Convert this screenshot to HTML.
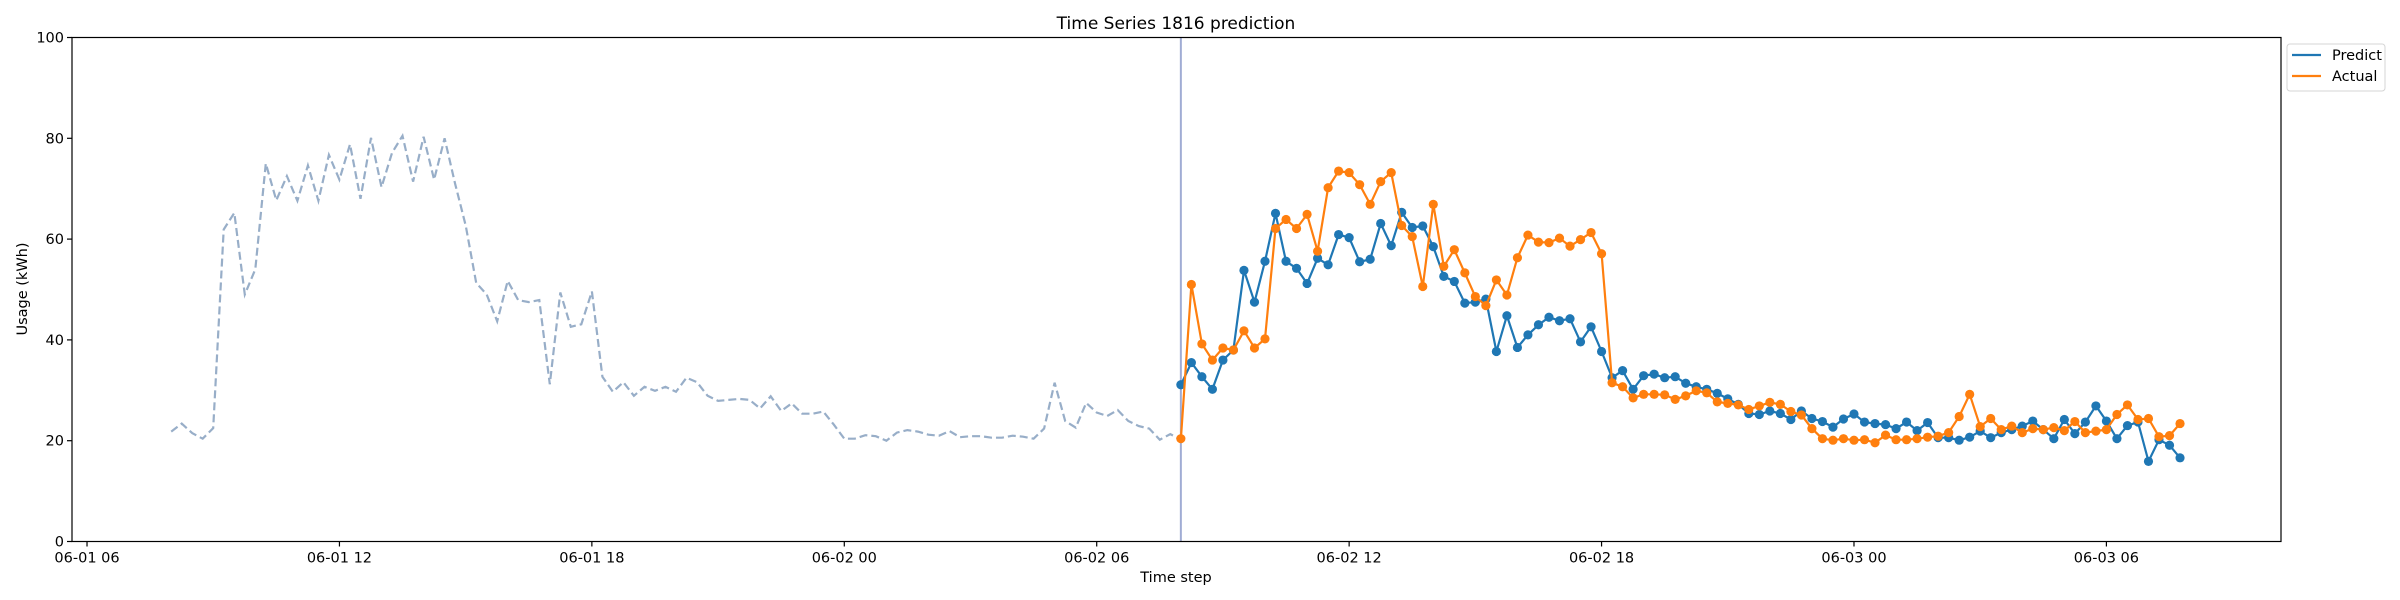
<!DOCTYPE html>
<html><head><meta charset="utf-8"><style>
html,body{margin:0;padding:0;background:#fff;}
svg{display:block;font-family:"DejaVu Sans","Liberation Sans",sans-serif;}
</style></head><body>
<svg id="chart" width="2400" height="600" viewBox="0 0 2400 600" xmlns="http://www.w3.org/2000/svg">
<rect x="0" y="0" width="2400" height="600" fill="#fff"/>
<text x="1176" y="29" font-size="17" text-anchor="middle" fill="#000">Time Series 1816 prediction</text>
<text x="1176" y="582" font-size="14.5" text-anchor="middle" fill="#000">Time step</text>
<text x="0" y="0" font-size="14.5" text-anchor="middle" fill="#000" transform="translate(27,289) rotate(-90)">Usage (kWh)</text>
<g id="plot"></g>
<g id="legend">
<rect x="2287" y="44" width="98" height="47" rx="3" fill="#fff" stroke="#d5d5d5" stroke-width="1"/>
<line x1="2292" y1="55" x2="2321" y2="55" stroke="#1f77b4" stroke-width="2.2"/>
<text x="2332" y="60" font-size="14.5">Predict</text>
<line x1="2292" y1="76" x2="2321" y2="76" stroke="#ff7f0e" stroke-width="2.2"/>
<text x="2332" y="81" font-size="14.5">Actual</text>
</g>
</svg>
<script>
const historyValues=[21.8,23.4,21.5,20.4,22.5,61.9,65.2,49,54,75,67.7,72.5,67.6,74.6,67.6,76.7,71.8,78.8,68,80.1,70.3,77.1,80.5,71.4,80.3,71.8,80,71,62.7,51.3,49,43.7,51.7,47.9,47.5,47.9,31.2,49.4,42.6,43.1,49.6,32.7,29.7,31.6,28.9,30.7,29.9,30.7,29.7,32.5,31.6,28.9,27.9,28.1,28.3,28.1,26.4,28.8,25.9,27.4,25.35,25.35,25.8,23.2,20.4,20.4,21.1,20.9,20.0,21.6,22.1,21.8,21.2,21.0,21.9,20.7,20.9,20.9,20.6,20.6,21.0,20.8,20.4,22.4,31.5,23.9,22.6,27.5,25.6,24.9,26.1,23.9,22.9,22.4,20.2,21.3,20.2];
const predictValues=[31.1,35.5,32.7,30.2,36.0,38.0,53.8,47.5,55.6,65.1,55.6,54.2,51.2,56.2,54.9,60.9,60.3,55.5,56.0,63.1,58.7,65.3,62.3,62.6,58.5,52.6,51.6,47.3,47.5,48.1,37.7,44.8,38.5,41.0,43.0,44.5,43.8,44.2,39.6,42.6,37.7,32.5,33.9,30.2,32.9,33.2,32.5,32.7,31.4,30.7,30.2,29.4,28.3,27.2,25.4,25.2,25.9,25.4,24.2,25.9,24.4,23.8,22.7,24.3,25.3,23.7,23.4,23.2,22.4,23.7,22.0,23.6,20.6,20.6,20.1,20.7,21.9,20.6,21.6,22.2,22.9,23.9,22.2,20.4,24.2,21.4,23.7,26.9,23.9,20.4,23.0,23.7,15.9,20.2,19.1,16.6];
const actualValues=[20.4,51.0,39.2,36.0,38.4,38.0,41.8,38.4,40.2,62.1,63.9,62.1,64.9,57.6,70.2,73.5,73.2,70.8,66.9,71.4,73.2,62.7,60.5,50.6,66.9,54.6,57.9,53.3,48.6,46.8,51.9,48.9,56.3,60.8,59.4,59.3,60.2,58.6,59.9,61.3,57.1,31.5,30.7,28.5,29.2,29.2,29.1,28.2,28.9,29.9,29.5,27.7,27.4,27.1,26.2,26.9,27.6,27.2,25.8,25.1,22.4,20.4,20.1,20.4,20.1,20.2,19.6,21.1,20.2,20.2,20.4,20.7,20.9,21.6,24.8,29.2,22.8,24.4,22.2,22.9,21.6,22.4,22.2,22.6,22.0,23.8,21.6,21.9,22.2,25.2,27.1,24.2,24.4,20.8,21.0,23.4];
const yTicks=[0,20,40,60,80,100];
const xTickLabels=["06-01 06","06-01 12","06-01 18","06-02 00","06-02 06","06-02 12","06-02 18","06-03 00","06-03 06"];
const xTickHours=[0,6,12,18,24,30,36,42,48];
const historyStartHour=2, forecastStartHour=26, stepHours=0.25;

const NS="http://www.w3.org/2000/svg";
const L=72,R=2281,T=37.5,B=541.5;
const hMin=-0.357,hMax=52.15;
function xs(h){return L+(h-hMin)/(hMax-hMin)*(R-L);}
function ys(v){return B-v/100*(B-T);}
const plot=document.getElementById('plot');
function mk(tag,attrs,parent){const e=document.createElementNS(NS,tag);for(const k in attrs)e.setAttribute(k,attrs[k]);(parent||plot).appendChild(e);return e;}

// vertical forecast start line
const vl=mk('line',{x1:xs(forecastStartHour),x2:xs(forecastStartHour),y1:T,y2:B,stroke:'#a0acd4','stroke-width':2});



// history
const hp=historyValues.map((v,i)=>xs(historyStartHour+i*stepHours).toFixed(1)+','+ys(v).toFixed(1)).join(' ');
const hl=mk('polyline',{points:hp,fill:'none',stroke:'#98aec8','stroke-width':2.2,'stroke-dasharray':'8,4'});



function series(vals,color,name){
  const g=mk('g',{});
  
  
  const pts=vals.map((v,i)=>xs(forecastStartHour+i*stepHours).toFixed(1)+','+ys(v).toFixed(1)).join(' ');
  const pl=mk('polyline',{points:pts,fill:'none',stroke:color,'stroke-width':2.2},g);
  
  
  vals.forEach((v,i)=>{
    const c=mk('circle',{cx:xs(forecastStartHour+i*stepHours),cy:ys(v),r:4.6,fill:color},g);
    
    
  });
}
series(predictValues,'#1f77b4','predict');
series(actualValues,'#ff7f0e','actual');

// axes frame
const fr=mk('rect',{x:L,y:T,width:R-L,height:B-T,fill:'none',stroke:'#000','stroke-width':1.2});



yTicks.forEach(t=>{
  const y=ys(t);
  const tl=mk('line',{x1:L-5,x2:L,y1:y,y2:y,stroke:'#000','stroke-width':1.2});
  
  
  const tx=mk('text',{x:L-8,y:y+5,'font-size':14.5,'text-anchor':'end',fill:'#000'});
  tx.textContent=t;
  
  
});
xTickHours.forEach((h,i)=>{
  const x=xs(h);
  const tl=mk('line',{x1:x,x2:x,y1:B,y2:B+5,stroke:'#000','stroke-width':1.2});
  
  
  const tx=mk('text',{x:x,y:B+21,'font-size':14.5,'text-anchor':'middle',fill:'#000'});
  tx.textContent=xTickLabels[i];
  
  
});
</script>
</body></html>
